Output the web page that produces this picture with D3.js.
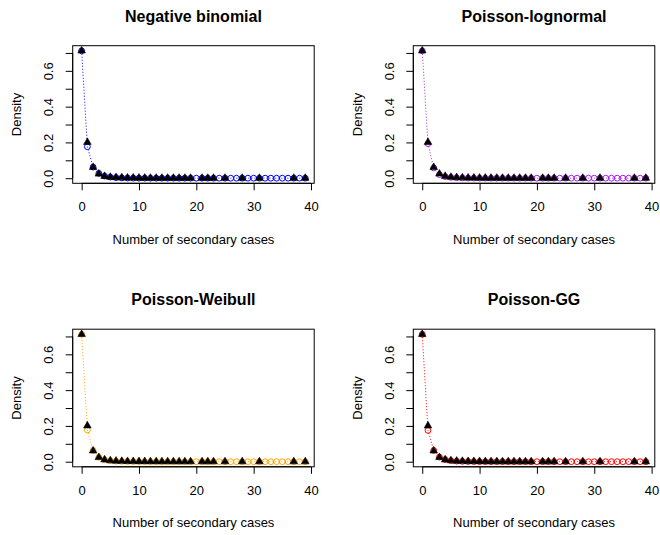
<!DOCTYPE html>
<html>
<head>
<meta charset="utf-8">
<script src="https://cdn.jsdelivr.net/npm/d3@7"></script>
<style>
  html, body { margin: 0; padding: 0; background: #fff; }
  svg { display: block; }
  text { font-family: "Liberation Sans", Arial, Helvetica, sans-serif; fill: #000; }
</style>
</head>
<body>
<svg id="chart" width="660" height="535"></svg>
<script>
// ---- data ----
const panelTitles = ["Negative binomial", "Poisson-lognormal", "Poisson-Weibull", "Poisson-GG"];
const panelColors = ["#0000FF", "#A020F0", "#FFA500", "#FF0000"];

const xValues = [0,1,2,3,4,5,6,7,8,9,10,11,12,13,14,15,16,17,18,19,
                 20,21,22,23,24,25,26,27,28,29,30,31,32,33,34,35,36,37,38,39];

const observedX = [0,1,2,3,4,5,6,7,8,9,10,11,12,13,14,15,16,17,18,19,21,22,23,25,28,31,37,39];
const observedY = [0.712,0.201,0.061,0.024,0.011,0.006,0.004,0.003,0.002,0.0018,
                   0.0015,0.0012,0.001,0.001,0.0008,0.0008,0.0006,0.0006,0.0005,0.0005,
                   0.0004,0.0004,0.0004,0.0003,0.0003,0.0003,0.0003,0.0003];

const fittedNB = [0.712,0.176,0.062,0.027,0.012,0.0062,0.0033,0.0019,0.0011,0.0007,
                  0.0004,0.0003,0.0002,0.00015,0.0001,0.0001,0.0001,0.0001,0.0001,0.0001,
                  0.0001,0.0001,0.0001,0.0001,0.0001,0.0001,0.0001,0.0001,0.0001,0.0001,
                  0.0001,0.0001,0.0001,0.0001,0.0001,0.0001,0.0001,0.0001,0.0001,0.0001];
const fittedPLN = [0.712,0.193,0.057,0.020,0.009,0.0045,0.0025,0.0015,0.001,0.0007,
                   0.0005,0.0004,0.0003,0.00025,0.0002,0.00015,0.00012,0.0001,0.0001,0.0001,
                   0.0001,0.0001,0.0001,0.0001,0.0001,0.0001,0.0001,0.0001,0.0001,0.0001,
                   0.0001,0.0001,0.0001,0.0001,0.0001,0.0001,0.0001,0.0001,0.0001,0.0001];
const fittedPW = [0.712,0.177,0.063,0.025,0.011,0.0055,0.003,0.0017,0.001,0.0006,
                  0.0004,0.0003,0.0002,0.00015,0.0001,0.0001,0.0001,0.0001,0.0001,0.0001,
                  0.0001,0.0001,0.0001,0.0001,0.0001,0.0001,0.0001,0.0001,0.0001,0.0001,
                  0.0001,0.0001,0.0001,0.0001,0.0001,0.0001,0.0001,0.0001,0.0001,0.0001];
const fittedPGG = [0.712,0.175,0.063,0.026,0.012,0.006,0.0032,0.0018,0.001,0.0006,
                   0.0004,0.0003,0.0002,0.00015,0.0001,0.0001,0.0001,0.0001,0.0001,0.0001,
                   0.0001,0.0001,0.0001,0.0001,0.0001,0.0001,0.0001,0.0001,0.0001,0.0001,
                   0.0001,0.0001,0.0001,0.0001,0.0001,0.0001,0.0001,0.0001,0.0001,0.0001];
const fittedSeries = [fittedNB, fittedPLN, fittedPW, fittedPGG];

const xTicks = [0, 10, 20, 30, 40];
const yTicks = [0, 0.1, 0.2, 0.3, 0.4, 0.5, 0.6, 0.7];
const yTickLabels = ["0.0", "", "0.2", "", "0.4", "", "0.6", ""];
const xLabel = "Number of secondary cases";
const yLabel = "Density";

// ---- layout ----
const svg = d3.select("#chart");
const plotW = 241.5, plotH = 137.6;
const origins = [[72.7, 45.7], [413.3, 45.7], [72.7, 329.2], [413.3, 329.2]];

panelTitles.forEach((title, i) => {
  const [ox, oy] = origins[i];
  const color = panelColors[i];
  const fitted = fittedSeries[i];
  const g = svg.append("g").attr("transform", `translate(${ox},${oy})`);

  const xMin = d3.min(xValues), xMax = d3.max(xValues);
  const xPad = 0.04 * (xMax - xMin);
  const x = d3.scaleLinear().domain([xMin - xPad, xMax + xPad]).range([0, plotW]);
  const yMax = d3.max([d3.max(fitted), d3.max(observedY)]);
  const yPad = 0.04 * yMax;
  const y = d3.scaleLinear().domain([-yPad, yMax + yPad]).range([plotH, 0]);

  // dotted line through fitted values
  const line = d3.line().x((d, j) => x(xValues[j])).y(d => y(d));
  g.append("path").datum(fitted)
    .attr("d", line).attr("fill", "none")
    .attr("stroke", color).attr("stroke-width", 1)
    .attr("stroke-dasharray", "1,2");

  // fitted open circles
  g.selectAll("circle.fit").data(fitted).enter().append("circle")
    .attr("class", "fit")
    .attr("cx", (d, j) => x(xValues[j])).attr("cy", d => y(d))
    .attr("r", 2.9).attr("fill", "none")
    .attr("stroke", color).attr("stroke-width", 1);

  // observed filled triangles
  const tri = d3.symbol().type(d3.symbolTriangle).size(25);
  g.selectAll("path.obs").data(observedY).enter().append("path")
    .attr("class", "obs")
    .attr("d", tri)
    .attr("transform", (d, j) => `translate(${x(observedX[j])},${y(d)})`)
    .attr("fill", "#000").attr("stroke", "#000").attr("stroke-width", 0.6)
    .attr("stroke-linejoin", "round");

  // box
  g.append("rect").attr("x", 0).attr("y", 0).attr("width", plotW).attr("height", plotH)
    .attr("fill", "none").attr("stroke", "#000").attr("stroke-width", 1);

  // x axis
  const xa = g.append("g").attr("transform", `translate(0,${plotH})`)
    .call(d3.axisBottom(x).tickValues(xTicks).tickSize(7).tickFormat(d3.format("d")));
  xa.select(".domain").remove();
  xa.selectAll("line").attr("stroke", "#000");
  xa.selectAll("text").attr("y", 28).attr("dy", null)
    .style("font-size", "13px").style("font-family", '"Liberation Sans", Arial, sans-serif');
  g.append("line").attr("x1", x(xTicks[0])).attr("x2", x(xTicks[xTicks.length - 1]))
    .attr("y1", plotH).attr("y2", plotH).attr("stroke", "#000");

  // y axis
  const ya = g.append("g")
    .call(d3.axisLeft(y).tickValues(yTicks).tickSize(7).tickFormat((d, j) => yTickLabels[j]));
  ya.select(".domain").remove();
  ya.selectAll("line").attr("stroke", "#000");
  ya.selectAll("text")
    .attr("x", null).attr("dy", null)
    .attr("text-anchor", "middle")
    .attr("transform", "translate(-19.5,0) rotate(-90)")
    .style("font-size", "13px").style("font-family", '"Liberation Sans", Arial, sans-serif');
  g.append("line").attr("x1", 0).attr("x2", 0)
    .attr("y1", y(yTicks[0])).attr("y2", y(yTicks[yTicks.length - 1])).attr("stroke", "#000");

  // title
  g.append("text").attr("x", plotW / 2).attr("y", -24.2)
    .attr("text-anchor", "middle")
    .style("font-size", "16px").style("font-weight", "bold")
    .text(title);

  // x label
  g.append("text").attr("x", plotW / 2).attr("y", plotH + 60.5)
    .attr("text-anchor", "middle").style("font-size", "13px")
    .text(xLabel);

  // y label
  g.append("text")
    .attr("transform", `translate(${-51.5},${plotH / 2}) rotate(-90)`)
    .attr("text-anchor", "middle").style("font-size", "13px")
    .text(yLabel);
});
</script>
</body>
</html>
